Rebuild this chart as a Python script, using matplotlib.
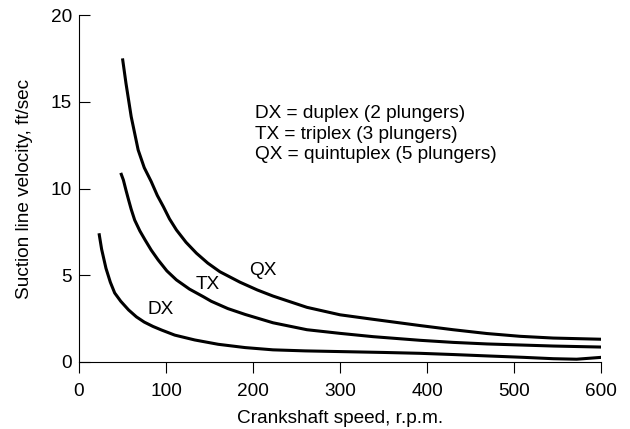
import matplotlib
matplotlib.use("Agg")
import matplotlib.pyplot as plt

plt.rcParams['font.family'] = ['Liberation Sans', 'DejaVu Sans']

# values
dx_speed = [23, 26, 31, 36, 41, 48, 57, 66, 75, 85, 95, 110, 133, 160, 191, 223, 260, 300, 350, 392, 430, 469, 510, 545, 572, 601]
dx_vel = [7.42, 6.5, 5.4, 4.6, 3.98, 3.5, 3.0, 2.6, 2.3, 2.05, 1.84, 1.55, 1.27, 1.02, 0.83, 0.7, 0.64, 0.6, 0.55, 0.5, 0.43, 0.35, 0.27, 0.19, 0.16, 0.27]

tx_speed = [48, 51, 54, 57, 60, 64, 70, 76, 83, 91, 101, 112, 127, 143, 152, 171, 191, 223, 262, 300, 338, 392, 430, 469, 507, 545, 601]
tx_vel = [10.9, 10.49, 9.9, 9.34, 8.8, 8.18, 7.55, 7.03, 6.45, 5.88, 5.25, 4.73, 4.2, 3.76, 3.5, 3.08, 2.74, 2.26, 1.86, 1.65, 1.46, 1.25, 1.13, 1.04, 0.98, 0.92, 0.86]

qx_speed = [50, 54, 60, 68, 75, 83, 90, 97, 104, 112, 123, 135, 148, 162, 185, 205, 223, 262, 300, 338, 392, 430, 469, 507, 545, 601]
qx_vel = [17.5, 16.06, 14.14, 12.22, 11.2, 10.4, 9.6, 8.95, 8.25, 7.61, 6.9, 6.27, 5.7, 5.2, 4.6, 4.15, 3.8, 3.15, 2.72, 2.46, 2.1, 1.86, 1.64, 1.48, 1.38, 1.31]

curve_labels = ["DX", "TX", "QX"]
label_pos = [(94, 3.0), (148, 4.44), (211, 5.3)]
legend_lines = ["DX = duplex (2 plungers)", "TX = triplex (3 plungers)", "QX = quintuplex (5 plungers)"]

fig = plt.figure(figsize=(6.3, 4.29), dpi=100)
ax = fig.add_axes([0.1254, 0.1562, 0.8286, 0.8088])

for xs, ys in [(dx_speed, dx_vel), (tx_speed, tx_vel), (qx_speed, qx_vel)]:
    ax.plot(xs, ys, color='black', lw=2.2, solid_capstyle='butt', solid_joinstyle='round')

for name, (x, y) in zip(curve_labels, label_pos):
    ax.text(x, y, name, fontsize=13.7, ha='center', va='center')

ax.text(202, 13.14, "\n".join(legend_lines), fontsize=13.7, ha='left', va='center',
        linespacing=1.3)

ax.set_xlim(0, 600)
ax.set_ylim(0, 20)
ax.set_xticks([0, 100, 200, 300, 400, 500, 600])
ax.set_yticks([0, 5, 10, 15, 20])
ax.spines['top'].set_visible(False)
ax.spines['right'].set_visible(False)
ax.tick_params(axis='x', direction='out', length=8, labelsize=13.7, pad=7)
ax.tick_params(axis='y', direction='in', length=8, labelsize=13.7, pad=5)
ax.set_xlabel("Crankshaft speed, r.p.m.", fontsize=13.7, labelpad=7)
ax.set_ylabel("Suction line velocity, ft/sec", fontsize=13.7, labelpad=13)

fig.savefig("out.png", dpi=100)
